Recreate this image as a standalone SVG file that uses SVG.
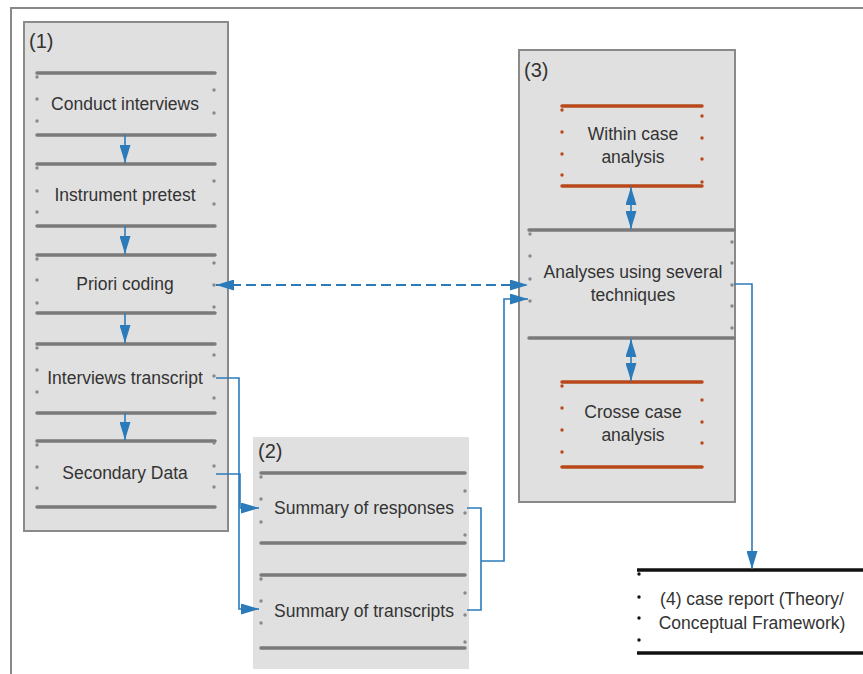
<svg xmlns="http://www.w3.org/2000/svg" width="863" height="674" viewBox="0 0 863 674">
<style>
.t{font-family:"Liberation Sans",Arial,sans-serif;font-size:17.5px;fill:#333;text-anchor:middle}
.lbl{font-family:"Liberation Sans",Arial,sans-serif;font-size:20px;fill:#333}
.gl{stroke:#7a7a7a;stroke-width:3.5;stroke-linecap:round}
.ol{stroke:#b8481a;stroke-width:3.5;stroke-linecap:round}
.bl{stroke:#111;stroke-width:3.5}
.gd{fill:#888}
.od{fill:#b8481a}
.bd{fill:#111}
.c{fill:none;stroke:#2b7bbb;stroke-width:1.6}
.dash{fill:none;stroke:#2b7bbb;stroke-width:2;stroke-dasharray:10 5}
.box{fill:#e0e0e0;stroke:#8a8a8a;stroke-width:2}
</style>
<defs>
<marker id="ah" viewBox="0 0 18 11" refX="18" refY="5.5" markerWidth="18" markerHeight="11" markerUnits="userSpaceOnUse" orient="auto-start-reverse">
<path d="M0,0 L18,5.5 L0,11 z" fill="#2b7bbb"/>
</marker>
</defs>
<rect width="863" height="674" fill="#fff"/>
<path d="M11,674 V8 H863" fill="none" stroke="#888" stroke-width="2"/>

<g id="container1">
<rect class="box" x="24" y="22" width="204" height="509"/>
<text class="lbl" x="29" y="48">(1)</text>
</g>
<g id="container2">
<rect x="253" y="437" width="216" height="232" fill="#e0e0e0"/>
<text class="lbl" x="258" y="458">(2)</text>
</g>
<g id="container3">
<rect class="box" x="519" y="50" width="216" height="452"/>
<text class="lbl" x="524" y="77">(3)</text>
</g>

<g id="n-conduct">
<line class="gl" x1="37" y1="73" x2="215" y2="73"/><line class="gl" x1="37" y1="135" x2="215" y2="135"/>
<circle class="gd" cx="37" cy="77" r="1.7"/><circle class="gd" cx="37" cy="99" r="1.7"/><circle class="gd" cx="37" cy="121" r="1.7"/>
<circle class="gd" cx="214" cy="90" r="1.7"/><circle class="gd" cx="214" cy="113" r="1.7"/>
<text class="t" x="125" y="110">Conduct interviews</text>
</g>
<g id="n-pretest">
<line class="gl" x1="37" y1="164" x2="215" y2="164"/><line class="gl" x1="37" y1="226" x2="215" y2="226"/>
<circle class="gd" cx="37" cy="168" r="1.7"/><circle class="gd" cx="37" cy="191" r="1.7"/><circle class="gd" cx="37" cy="212" r="1.7"/>
<circle class="gd" cx="214" cy="181" r="1.7"/><circle class="gd" cx="214" cy="204" r="1.7"/>
<text class="t" x="125" y="201">Instrument pretest</text>
</g>
<g id="n-priori">
<line class="gl" x1="37" y1="255" x2="215" y2="255"/><line class="gl" x1="37" y1="313" x2="215" y2="313"/>
<circle class="gd" cx="37" cy="259" r="1.7"/><circle class="gd" cx="37" cy="280" r="1.7"/><circle class="gd" cx="37" cy="303" r="1.7"/>
<circle class="gd" cx="214" cy="263" r="1.7"/><circle class="gd" cx="214" cy="285" r="1.7"/><circle class="gd" cx="214" cy="307" r="1.7"/>
<text class="t" x="125" y="290">Priori coding</text>
</g>
<g id="n-transcript">
<line class="gl" x1="37" y1="344" x2="215" y2="344"/><line class="gl" x1="37" y1="413" x2="215" y2="413"/>
<circle class="gd" cx="37" cy="348" r="1.7"/><circle class="gd" cx="37" cy="370" r="1.7"/><circle class="gd" cx="37" cy="392" r="1.7"/>
<circle class="gd" cx="214" cy="355" r="1.7"/><circle class="gd" cx="214" cy="376" r="1.7"/><circle class="gd" cx="214" cy="398" r="1.7"/>
<text class="t" x="125" y="384">Interviews transcript</text>
</g>
<g id="n-secondary">
<line class="gl" x1="37" y1="441" x2="215" y2="441"/><line class="gl" x1="37" y1="507" x2="215" y2="507"/>
<circle class="gd" cx="37" cy="445" r="1.7"/><circle class="gd" cx="37" cy="467" r="1.7"/><circle class="gd" cx="37" cy="488" r="1.7"/>
<circle class="gd" cx="214" cy="443" r="1.7"/><circle class="gd" cx="214" cy="466" r="1.7"/><circle class="gd" cx="214" cy="487" r="1.7"/>
<text class="t" x="125" y="479">Secondary Data</text>
</g>

<g id="n-responses">
<line class="gl" x1="261" y1="473" x2="465" y2="473"/><line class="gl" x1="261" y1="543" x2="465" y2="543"/>
<circle class="gd" cx="261" cy="477" r="1.7"/><circle class="gd" cx="261" cy="499" r="1.7"/><circle class="gd" cx="261" cy="522" r="1.7"/>
<circle class="gd" cx="465" cy="491" r="1.7"/><circle class="gd" cx="465" cy="513" r="1.7"/><circle class="gd" cx="465" cy="535" r="1.7"/>
<text class="t" x="364" y="514">Summary of responses</text>
</g>
<g id="n-transcripts">
<line class="gl" x1="261" y1="575" x2="465" y2="575"/><line class="gl" x1="261" y1="648" x2="465" y2="648"/>
<circle class="gd" cx="261" cy="579" r="1.7"/><circle class="gd" cx="261" cy="601" r="1.7"/><circle class="gd" cx="261" cy="623" r="1.7"/>
<circle class="gd" cx="465" cy="593" r="1.7"/><circle class="gd" cx="465" cy="615" r="1.7"/><circle class="gd" cx="465" cy="642" r="1.7"/>
<text class="t" x="364" y="617">Summary of transcripts</text>
</g>

<g id="n-within">
<line class="ol" x1="562" y1="106" x2="702" y2="106"/><line class="ol" x1="562" y1="186" x2="702" y2="186"/>
<circle class="od" cx="562" cy="110" r="1.7"/><circle class="od" cx="562" cy="132" r="1.7"/><circle class="od" cx="562" cy="154" r="1.7"/><circle class="od" cx="562" cy="175" r="1.7"/>
<circle class="od" cx="702" cy="116" r="1.7"/><circle class="od" cx="702" cy="138" r="1.7"/><circle class="od" cx="702" cy="159" r="1.7"/><circle class="od" cx="702" cy="182" r="1.7"/>
<text class="t" x="633" y="140">Within case</text>
<text class="t" x="633" y="163">analysis</text>
</g>
<g id="n-analyses">
<line class="gl" x1="529" y1="230" x2="734" y2="230"/><line class="gl" x1="529" y1="338" x2="734" y2="338"/>
<circle class="gd" cx="530" cy="234" r="1.7"/><circle class="gd" cx="530" cy="256" r="1.7"/><circle class="gd" cx="530" cy="279" r="1.7"/><circle class="gd" cx="530" cy="301" r="1.7"/>
<circle class="gd" cx="732" cy="242" r="1.7"/><circle class="gd" cx="732" cy="263" r="1.7"/><circle class="gd" cx="732" cy="285" r="1.7"/><circle class="gd" cx="732" cy="306" r="1.7"/><circle class="gd" cx="732" cy="328" r="1.7"/>
<text class="t" x="633" y="278">Analyses using several</text>
<text class="t" x="633" y="301">techniques</text>
</g>
<g id="n-crosse">
<line class="ol" x1="562" y1="382" x2="702" y2="382"/><line class="ol" x1="562" y1="467" x2="702" y2="467"/>
<circle class="od" cx="562" cy="386" r="1.7"/><circle class="od" cx="562" cy="408" r="1.7"/><circle class="od" cx="562" cy="430" r="1.7"/><circle class="od" cx="562" cy="452" r="1.7"/>
<circle class="od" cx="702" cy="400" r="1.7"/><circle class="od" cx="702" cy="422" r="1.7"/><circle class="od" cx="702" cy="443" r="1.7"/>
<text class="t" x="633" y="418">Crosse case</text>
<text class="t" x="633" y="441">analysis</text>
</g>
<g id="n-report">
<line class="bl" x1="637" y1="570" x2="863" y2="570"/><line class="bl" x1="637" y1="653" x2="863" y2="653"/>
<circle class="bd" cx="639" cy="574" r="1.7"/><circle class="bd" cx="639" cy="597" r="1.7"/><circle class="bd" cx="639" cy="618" r="1.7"/><circle class="bd" cx="639" cy="640" r="1.7"/>
<text class="t" x="752" y="605">(4) case report (Theory/</text>
<text class="t" x="752" y="629">Conceptual Framework)</text>
</g>

<g id="connectors">
<line class="c" x1="125" y1="135" x2="125" y2="163" marker-end="url(#ah)"/>
<line class="c" x1="125" y1="226" x2="125" y2="254" marker-end="url(#ah)"/>
<line class="c" x1="125" y1="313" x2="125" y2="343" marker-end="url(#ah)"/>
<line class="c" x1="125" y1="413" x2="125" y2="440" marker-end="url(#ah)"/>
<line class="dash" x1="216" y1="285" x2="528" y2="285" marker-start="url(#ah)" marker-end="url(#ah)"/>
<path class="c" d="M216,474 H240 V508 H259" marker-end="url(#ah)"/>
<path class="c" d="M216,378 H239 V609 H259" marker-end="url(#ah)"/>
<path class="c" d="M467,508 H481 V610 H467"/>
<path class="c" d="M481,561 H504 V299 H528" marker-end="url(#ah)"/>
<line class="c" x1="631" y1="187" x2="631" y2="229" stroke-width="2" marker-start="url(#ah)" marker-end="url(#ah)"/>
<line class="c" x1="631" y1="339" x2="631" y2="381" stroke-width="2" marker-start="url(#ah)" marker-end="url(#ah)"/>
<path class="c" d="M734,284 H752 V569" marker-end="url(#ah)"/>
</g>
</svg>
